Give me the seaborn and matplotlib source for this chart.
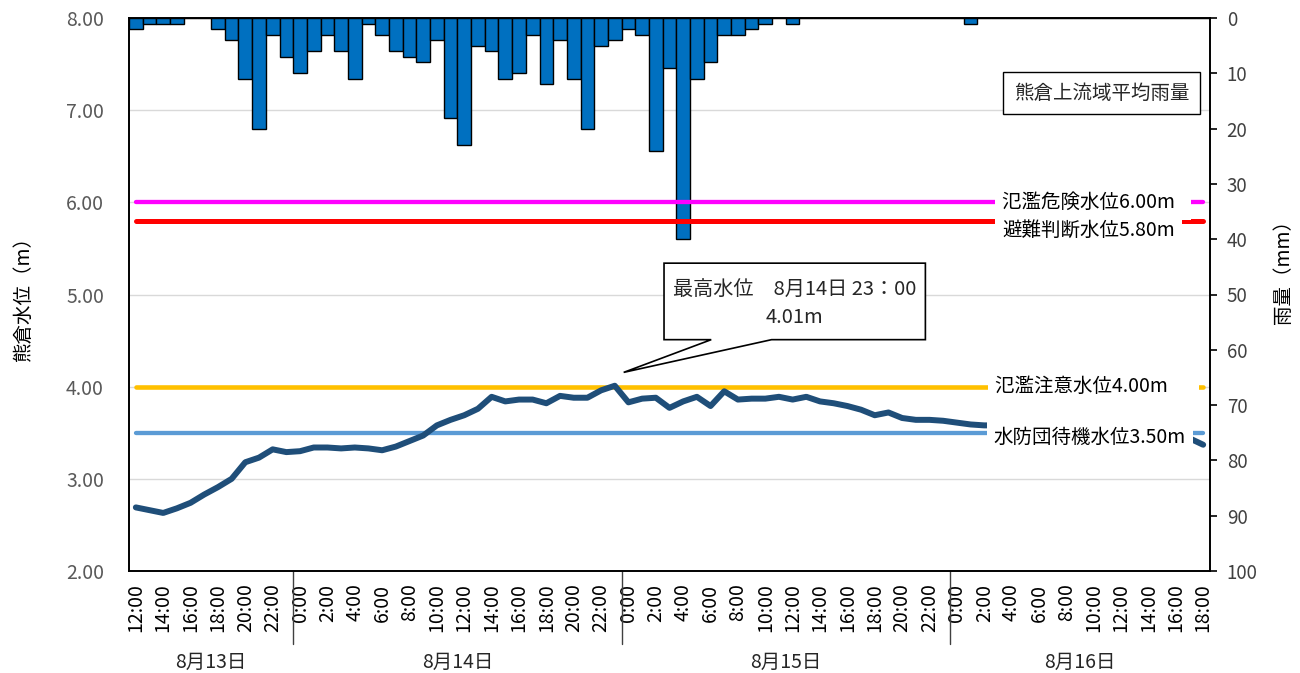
import numpy as np
import pandas as pd
import matplotlib
matplotlib.use("Agg")
import matplotlib.pyplot as plt
import matplotlib.transforms as mtransforms
from matplotlib.patches import Polygon
import seaborn as sns

sns.set_theme(style="white")
plt.rcParams["font.family"] = ["Noto Sans CJK JP", "DejaVu Sans"]

# ---------------- data ----------------
day_labels = ["8月13日", "8月14日", "8月15日", "8月16日"]
day_start_hours = [12, 0, 0, 0]
day_end_hours = [23, 23, 23, 18]

hours = []
for s, e in zip(day_start_hours, day_end_hours):
    hours += list(range(s, e + 1))
hour_labels = [f"{h}:00" for h in hours]

rain_mm = [
    2, 1, 1, 1, 0, 0, 2, 4, 11, 20, 3, 7,
    10, 6, 3, 6, 11, 1, 3, 6, 7, 8, 4, 18, 23, 5, 6, 11, 10, 3, 12, 4, 11, 20, 5, 4,
    2, 3, 24, 9, 40, 11, 8, 3, 3, 2, 1, 0, 1, 0, 0, 0, 0, 0, 0, 0, 0, 0, 0, 0,
    0, 1, 0, 0, 0, 0, 0, 0, 0, 0, 0, 0, 0, 0, 0, 0, 0, 0, 0,
]

level_m = [
    2.69, 2.66, 2.63, 2.68, 2.74, 2.83, 2.91, 3.00, 3.18, 3.23, 3.32, 3.29,
    3.30, 3.34, 3.34, 3.33, 3.34, 3.33, 3.31, 3.35, 3.41, 3.47, 3.58, 3.64,
    3.69, 3.76, 3.89, 3.84, 3.86, 3.86, 3.82, 3.90, 3.88, 3.88, 3.96, 4.01,
    3.83, 3.87, 3.88, 3.77, 3.84, 3.89, 3.79, 3.95, 3.86, 3.87, 3.87, 3.89,
    3.86, 3.89, 3.84, 3.82, 3.79, 3.75, 3.69, 3.72, 3.66, 3.64, 3.64, 3.63,
    3.61, 3.59, 3.58, 3.58, 3.57, 3.57, 3.56, 3.55, 3.55, 3.54, 3.53, 3.52,
    3.51, 3.50, 3.49, 3.48, 3.46, 3.44, 3.37,
]

threshold_values = [6.00, 5.80, 4.00, 3.50]
threshold_labels = ["氾濫危険水位6.00m", "避難判断水位5.80m", "氾濫注意水位4.00m", "水防団待機水位3.50m"]
threshold_colors = ["#FF00FF", "#FF0000", "#FFC000", "#5B9BD5"]

level_ticks = [2, 3, 4, 5, 6, 7, 8]
rain_ticks = [0, 10, 20, 30, 40, 50, 60, 70, 80, 90, 100]

peak_line1 = "最高水位　8月14日 23：00"
peak_line2 = "4.01m"
rain_legend = "熊倉上流域平均雨量"

idx = np.arange(len(hour_labels))
df = pd.DataFrame({"idx": idx, "rain": rain_mm, "level": level_m})

# ---------------- figure ----------------
fig = plt.figure(figsize=(13, 6.73), dpi=100)
rect = [129 / 1300, 102 / 673, 1081 / 1300, 553 / 673]
axg = fig.add_axes(rect, zorder=0)   # grid only
axr = fig.add_axes(rect, zorder=1)   # rain bars
ax1 = fig.add_axes(rect, zorder=2)   # water level
axr.patch.set_visible(False)
ax1.patch.set_visible(False)
axg.set_facecolor("white")

xlim = (-0.5, len(idx) - 0.5)

# grid axes
axg.set_xlim(*xlim)
axg.set_ylim(2, 8)
axg.set_yticks(level_ticks)
axg.grid(axis="y", color="#D9D9D9", lw=1.0)
axg.grid(axis="x", visible=False)
axg.tick_params(left=False, bottom=False, labelleft=False, labelbottom=False)
for s in axg.spines.values():
    s.set_visible(False)

# rain bars
sns.barplot(data=df, x="idx", y="rain", ax=axr, color="#0070C0", saturation=1,
            width=1, edgecolor="black", linewidth=1.0)
axr.set_xlim(*xlim)
axr.set_ylim(100, 0)
axr.yaxis.tick_right()
axr.yaxis.set_label_position("right")
axr.set_yticks(rain_ticks)
axr.set_yticklabels([str(v) for v in rain_ticks])
axr.tick_params(axis="y", right=True, left=False, length=5, width=1.2, color="black",
                pad=7, labelsize=13.5, labelcolor="#404040")
axr.tick_params(axis="x", bottom=False, labelbottom=False)
axr.set_xlabel("")
axr.set_ylabel("雨量（mm）", fontsize=14, color="black")
axr.yaxis.set_label_coords(1.058, 0.55)
for s in axr.spines.values():
    s.set_visible(False)

# threshold lines
widths = [3.1, 3.6, 3.3, 3.1]
for v, c, w in zip(threshold_values, threshold_colors, widths):
    ax1.plot([idx[0], idx[-1]], [v, v], color=c, lw=w, solid_capstyle="round", zorder=3)

# water level
sns.lineplot(data=df, x="idx", y="level", ax=ax1, color="#1F4E79", lw=4.3,
             solid_joinstyle="round", solid_capstyle="round", zorder=4)

# threshold labels (white boxes hide the lines behind, as in the original)
label_pos = [(63.3, 6.00), (63.3, 5.70), (62.8, 4.00), (62.7, 3.45)]
label_tail = ["  ", "", "　 ", ""]
for (tx, ty), lab, tail in zip(label_pos, threshold_labels, label_tail):
    ax1.text(tx, ty, lab + tail, ha="left", va="center", fontsize=14, color="black",
             bbox=dict(boxstyle="square,pad=0.35", fc="white", ec="none"), zorder=6)

# peak callout
x0, x1, y0, y1 = 38.6, 57.7, 4.51, 5.34
callout = Polygon([(x0, y1), (x1, y1), (x1, y0), (46.46, y0), (35.65, 4.155), (42.05, y0), (x0, y0)],
                  closed=True, fc="white", ec="black", lw=1.2, zorder=7)
ax1.add_patch(callout)
ax1.text((x0 + x1) / 2, 5.04, peak_line1, ha="center", va="center", fontsize=14.5, zorder=8)
ax1.text((x0 + x1) / 2, 4.75, peak_line2, ha="center", va="center", fontsize=14.5, zorder=8)

# rain legend box
ax1.text(0.900, 0.864, rain_legend, transform=ax1.transAxes, ha="center", va="center",
         fontsize=14, zorder=8,
         bbox=dict(boxstyle="square,pad=0.55", fc="white", ec="black", lw=1.0))

# axes formatting
ax1.set_xlim(*xlim)
ax1.set_ylim(2, 8)
ax1.set_yticks(level_ticks)
ax1.set_yticklabels([f"{v:.2f}" for v in level_ticks])
ax1.tick_params(axis="y", left=False, length=0, pad=18, labelsize=14, labelcolor="#595959")
ax1.set_xticks(idx[::2])
ax1.set_xticklabels(hour_labels[::2], rotation=90)
ax1.tick_params(axis="x", bottom=False, length=0, pad=9, labelsize=14, labelcolor="black")
ax1.set_xlabel("")
ax1.set_ylabel("熊倉水位（m）", fontsize=14, color="black")
ax1.yaxis.set_label_coords(-0.088, 0.5)
for s in ax1.spines.values():
    s.set_visible(True)
    s.set_color("black")
    s.set_linewidth(1.4)
ax1.grid(False)

# date group labels and separators
trans = mtransforms.blended_transform_factory(ax1.transData, ax1.transAxes)
start = 0
for lab, s, e in zip(day_labels, day_start_hours, day_end_hours):
    n = e - s + 1
    center = start + (n - 1) / 2
    ax1.text(center, -0.1646, lab, transform=trans, ha="center", va="center", fontsize=14)
    end = start + n
    if end < len(idx):
        ax1.plot([end - 0.5, end - 0.5], [0, -0.132], transform=trans, color="#404040",
                 lw=1.0, clip_on=False)
    start = end

fig.savefig("out.png", dpi=100)
